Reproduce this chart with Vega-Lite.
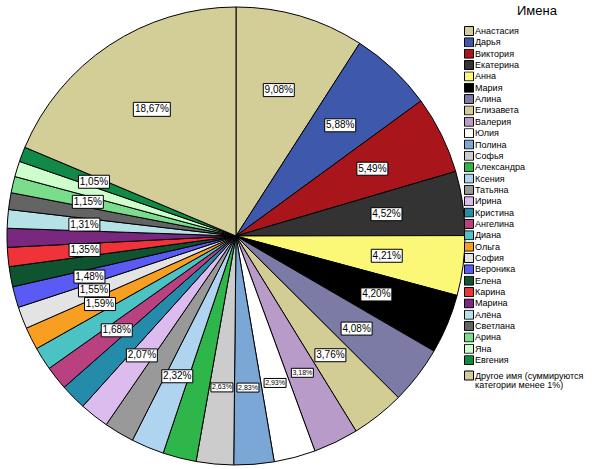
{
  "$schema": "https://vega.github.io/schema/vega-lite/v6.json",
  "width": 458,
  "height": 458,
  "padding": {"left": 5, "top": 5, "right": 0, "bottom": 0},
  "background": "white",
  "data": {
    "values": [
      {"idx": 1, "name": "Анастасия", "value": 9.08, "label": "9,08%"},
      {"idx": 2, "name": "Дарья", "value": 5.88, "label": "5,88%"},
      {"idx": 3, "name": "Виктория", "value": 5.49, "label": "5,49%"},
      {"idx": 4, "name": "Екатерина", "value": 4.52, "label": "4,52%"},
      {"idx": 5, "name": "Анна", "value": 4.21, "label": "4,21%"},
      {"idx": 6, "name": "Мария", "value": 4.20, "label": "4,20%"},
      {"idx": 7, "name": "Алина", "value": 4.08, "label": "4,08%"},
      {"idx": 8, "name": "Елизавета", "value": 3.76, "label": "3,76%"},
      {"idx": 9, "name": "Валерия", "value": 3.18, "label": "3,18%"},
      {"idx": 10, "name": "Юлия", "value": 2.93, "label": "2,93%"},
      {"idx": 11, "name": "Полина", "value": 2.83, "label": "2,83%"},
      {"idx": 12, "name": "Софья", "value": 2.63, "label": "2,63%"},
      {"idx": 13, "name": "Александра", "value": 2.36, "label": null},
      {"idx": 14, "name": "Ксения", "value": 2.32, "label": "2,32%"},
      {"idx": 15, "name": "Татьяна", "value": 2.12, "label": null},
      {"idx": 16, "name": "Ирина", "value": 2.07, "label": "2,07%"},
      {"idx": 17, "name": "Кристина", "value": 1.85, "label": null},
      {"idx": 18, "name": "Ангелина", "value": 1.68, "label": "1,68%"},
      {"idx": 19, "name": "Диана", "value": 1.63, "label": null},
      {"idx": 20, "name": "Ольга", "value": 1.59, "label": "1,59%"},
      {"idx": 21, "name": "София", "value": 1.55, "label": "1,55%"},
      {"idx": 22, "name": "Вероника", "value": 1.48, "label": "1,48%"},
      {"idx": 23, "name": "Елена", "value": 1.42, "label": null},
      {"idx": 24, "name": "Карина", "value": 1.35, "label": "1,35%"},
      {"idx": 25, "name": "Марина", "value": 1.33, "label": null},
      {"idx": 26, "name": "Алёна", "value": 1.31, "label": "1,31%"},
      {"idx": 27, "name": "Светлана", "value": 1.18, "label": null},
      {"idx": 28, "name": "Арина", "value": 1.15, "label": "1,15%"},
      {"idx": 29, "name": "Яна", "value": 1.10, "label": null},
      {"idx": 30, "name": "Евгения", "value": 1.05, "label": "1,05%"},
      {"idx": 31, "name": "Другое имя (суммируются категории менее 1%)", "value": 18.67, "label": "18,67%"}
    ]
  },
  "layer": [
    {
      "mark": {"type": "arc", "radius": 229, "stroke": "#000000", "strokeWidth": 1},
      "encoding": {
        "theta": {"field": "value", "type": "quantitative", "stack": true},
        "order": {"field": "idx", "type": "quantitative"},
        "color": {
          "field": "name",
          "type": "nominal",
          "scale": {
            "domain": ["Анастасия", "Дарья", "Виктория", "Екатерина", "Анна", "Мария", "Алина", "Елизавета", "Валерия", "Юлия", "Полина", "Софья", "Александра", "Ксения", "Татьяна", "Ирина", "Кристина", "Ангелина", "Диана", "Ольга", "София", "Вероника", "Елена", "Карина", "Марина", "Алёна", "Светлана", "Арина", "Яна", "Евгения", "Другое имя (суммируются категории менее 1%)"],
            "range": ["#D3CE97", "#3E58AC", "#A8161B", "#333333", "#FBF877", "#000000", "#7B7BA6", "#D2CC95", "#B89BC9", "#FFFFFF", "#7BA7D6", "#CCCCCC", "#2FB64A", "#AFD4EF", "#999999", "#DCBBEF", "#258BAA", "#B9417F", "#4BC3C5", "#F89E21", "#E3E3E3", "#5A5AF5", "#0F5431", "#EF3338", "#7A2780", "#B5E2E6", "#646464", "#79DD8C", "#CEFECB", "#118A47", "#D3CE97"]
          },
          "legend": {
            "title": "Имена",
            "orient": "none",
            "legendX": 457,
            "legendY": -2,
            "symbolType": "square",
            "symbolSize": 81,
            "symbolStrokeColor": "#000000",
            "symbolStrokeWidth": 1,
            "symbolOpacity": 1,
            "labelFont": "Liberation Sans",
            "labelFontSize": 9,
            "labelColor": "#000000",
            "labelOffset": 1,
            "labelLimit": 300,
            "titleFont": "Liberation Sans",
            "titleFontSize": 13,
            "titleFontWeight": "normal",
            "titleColor": "#000000",
            "titleAnchor": "middle",
            "titleAlign": "left",
            "titlePadding": 8,
            "rowPadding": 1.35,
            "clipHeight": 10,
            "symbolLimit": 0,
            "padding": 0,
            "labelExpr": "datum.label == 'Другое имя (суммируются категории менее 1%)' ? ['Другое имя (суммируются', 'категории менее 1%)'] : datum.label",
            "encode": {
              "labels": {"update": {"lineHeight": {"value": 9}, "dy": {"signal": "datum.value == 'Другое имя (суммируются категории менее 1%)' ? 4 : 0"}}},
              "symbols": {"update": {"y": {"signal": "datum.value == 'Другое имя (суммируются категории менее 1%)' ? 9 : 5"}}},
              "title": {"update": {"dx": {"value": -7}}}
            }
          }
        }
      }
    },
    {
      "transform": [
        {"window": [{"op": "sum", "field": "value", "as": "cum"}], "sort": [{"field": "idx", "order": "ascending"}], "frame": [null, 0]},
        {"joinaggregate": [{"op": "sum", "field": "value", "as": "total"}]},
        {"calculate": "2 * PI * (datum.cum - datum.value / 2) / datum.total", "as": "ang"},
        {"calculate": "sin(datum.ang) * 0.664", "as": "lx"},
        {"calculate": "cos(datum.ang) * 0.664", "as": "ly"},
        {"filter": "datum.label != null"}
      ],
      "mark": {"type": "point", "filled": true, "fill": "#FFFFFF", "stroke": "#000000", "strokeWidth": 1, "opacity": 1, "size": 4},
      "encoding": {
        "x": {"field": "lx", "type": "quantitative", "scale": {"domain": [-1, 1], "nice": false, "zero": false}, "axis": null},
        "y": {"field": "ly", "type": "quantitative", "scale": {"domain": [-1, 1], "nice": false, "zero": false}, "axis": null},
        "shape": {
          "condition": [
            {"test": "datum.value > 2.5 && datum.value < 3.5", "value": "M-11,-4.5H11V4.5H-11Z"},
            {"test": "length(datum.label) > 5", "value": "M-18.5,-7H18.5V7H-18.5Z"}
          ],
          "value": "M-15.5,-6.5H15.5V6.5H-15.5Z"
        }
      }
    },
    {
      "transform": [
        {"window": [{"op": "sum", "field": "value", "as": "cum"}], "sort": [{"field": "idx", "order": "ascending"}], "frame": [null, 0]},
        {"joinaggregate": [{"op": "sum", "field": "value", "as": "total"}]},
        {"calculate": "2 * PI * (datum.cum - datum.value / 2) / datum.total", "as": "ang"},
        {"calculate": "sin(datum.ang) * 0.664", "as": "lx"},
        {"calculate": "cos(datum.ang) * 0.664", "as": "ly"},
        {"filter": "datum.label != null"}
      ],
      "mark": {"type": "text", "font": "Liberation Sans", "color": "#000000", "align": "center", "baseline": "middle"},
      "encoding": {
        "x": {"field": "lx", "type": "quantitative"},
        "y": {"field": "ly", "type": "quantitative"},
        "text": {"field": "label", "type": "nominal"},
        "size": {
          "condition": {"test": "datum.value > 2.5 && datum.value < 3.5", "value": 7},
          "value": 10
        }
      }
    }
  ],
  "config": {"view": {"stroke": null}}
}
